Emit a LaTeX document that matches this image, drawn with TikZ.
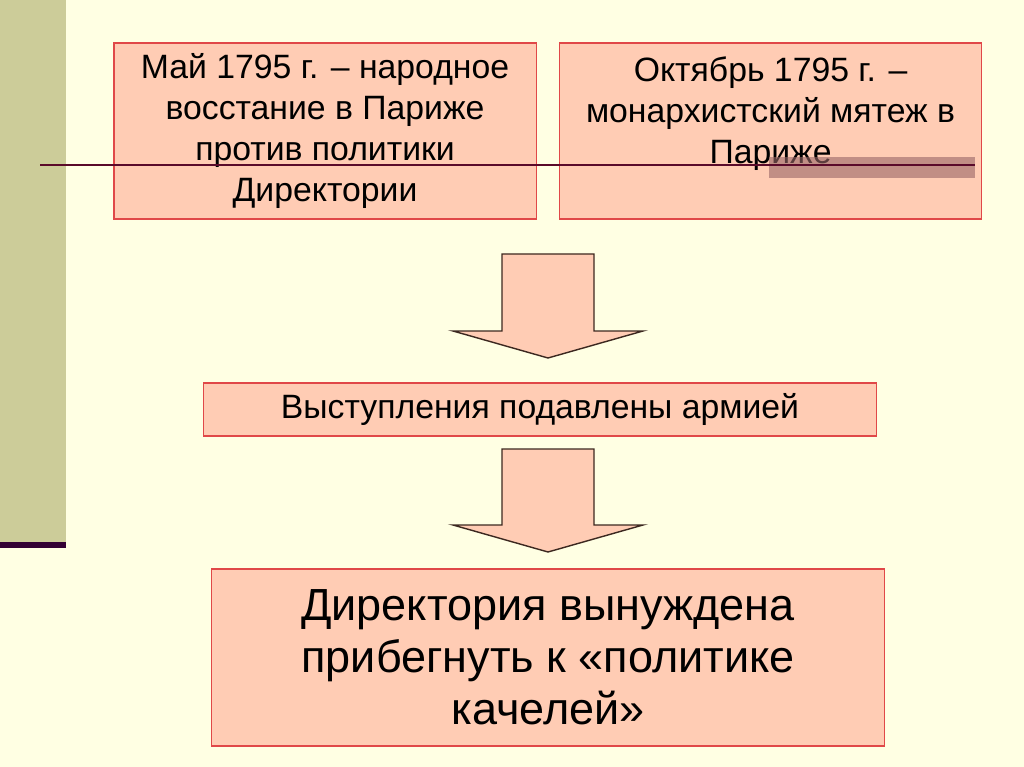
\documentclass[tikz,border=0pt]{standalone}
\usepackage{fontspec}
\setmainfont{Liberation Sans}
\usetikzlibrary{positioning}
\definecolor{slidebg}{HTML}{FFFFE3}
\definecolor{bandolive}{HTML}{CCCC99}
\definecolor{bandline}{HTML}{330033}
\definecolor{boxfill}{HTML}{FFCCB4}
\definecolor{boxedge}{HTML}{E04848}
\definecolor{arrowedge}{HTML}{3C2820}
\definecolor{rulemaroon}{HTML}{5A0A2A}
\definecolor{shadegray}{HTML}{996666}
\tikzset{
  evbox/.style={draw=boxedge, fill=boxfill, line width=0.8pt, align=center,
                inner sep=0pt, text=black},
  blockarrow/.style={draw=arrowedge, fill=boxfill, line width=1pt, line join=miter},
  midfont/.style={font=\fontsize{24}{29.2}\selectfont},
  bigfont/.style={font=\fontsize{32}{37}\selectfont},
}
\begin{document}
\begin{tikzpicture}[x=0.025cm, y=-0.025cm]
    \useasboundingbox (0,0) rectangle (1024,767);
    \fill[slidebg] (0,0) rectangle (1024,767);
    \fill[bandolive] (0,0) rectangle (66,545);
    \fill[bandline] (0,542) rectangle (66,548);
    % upper boxes
    \node[evbox, midfont, minimum width=10.55cm, minimum height=4.4cm] (may) at (325,131)
      {Май 1795 г. – народное\\восстание в Париже\\против политики\\Директории};
    \node[evbox, midfont, minimum width=10.53cm, minimum height=4.4cm] (oct) at (770.5,131)
      {Октябрь 1795 г. –\\монархистский мятеж в\\Париже\\\mbox{}};
    \fill[shadegray, fill opacity=0.6] (769,157) rectangle (975,178);
    \draw[rulemaroon, line width=2pt] (40,165) -- (975,165);
    % arrows and lower boxes
    \draw[blockarrow] (502,254) -- (594,254) -- (594,331) -- (643,331) -- (548,358)
      -- (453,331) -- (502,331) -- cycle;
    \node[evbox, midfont, minimum width=16.8cm, minimum height=1.325cm] (army) at (540,409.5)
      {Выступления подавлены армией};
    \draw[blockarrow] (502,449) -- (594,449) -- (594,525) -- (643,525) -- (548,552)
      -- (453,525) -- (502,525) -- cycle;
    \node[evbox, bigfont, minimum width=16.8cm, minimum height=4.425cm] (swing) at (548,657.5)
      {Директория вынуждена\\прибегнуть к «политике\\качелей»};
  \end{tikzpicture}
\end{document}
